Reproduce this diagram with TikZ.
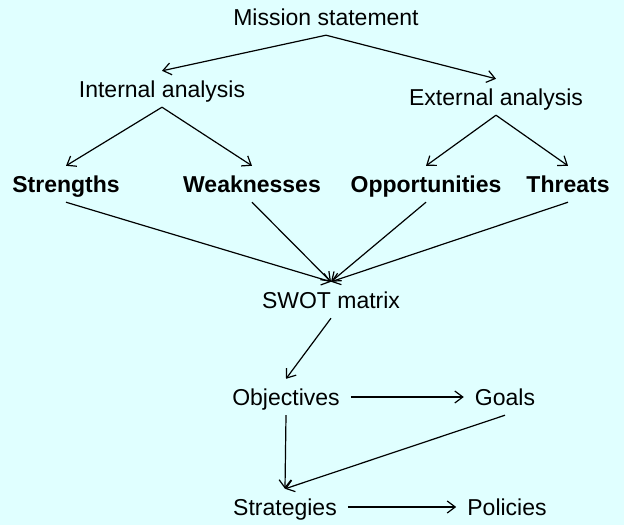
\documentclass[tikz,border=0pt]{standalone}
\usepackage{xcolor}
\usepackage{fontspec}
\setmainfont{Liberation Sans}
\usepackage{tikz}
\usetikzlibrary{arrows.meta}
\definecolor{latar}{RGB}{224,255,255}

\begin{document}
\begin{tikzpicture}[
    x=1pt, y=-1pt,
    butir/.style={inner xsep=11pt, inner ysep=0pt, text height=26pt, text depth=10pt,
                  font=\fontsize{23}{27}\selectfont},
    tebal/.style={butir, font=\fontsize{23}{27}\selectfont\bfseries},
    garis/.style={-{Straight Barb[length=8pt, width=12pt]}, line width=1.2pt}
  ]
    \useasboundingbox[fill=latar] (0,0) rectangle (624,525);
    \node[butir] (misi)   at (326,17)  {Mission statement};
    \node[butir] (intern) at (162,89)  {Internal analysis};
    \node[butir] (ekstern) at (496,97) {External analysis};
    \node[tebal] (kuat)   at (66,184)  {Strengths};
    \node[tebal] (lemah)  at (252,184) {Weaknesses};
    \node[tebal] (peluang) at (426,184) {Opportunities};
    \node[tebal] (ancaman) at (568,184) {Threats};
    \node[butir] (swot)   at (331,300) {SWOT matrix};
    \node[butir] (tujuan) at (286,397) {Objectives};
    \node[butir] (sasaran) at (505,397) {Goals};
    \node[butir] (strategi) at (285,507) {Strategies};
    \node[butir] (kebijakan) at (507,507) {Policies};
    \draw[garis] (misi.south) -- (intern.north);
    \draw[garis] (misi.south) -- (ekstern.north);
    \draw[garis] (intern.south) -- (kuat.north);
    \draw[garis] (intern.south) -- (lemah.north);
    \draw[garis] (ekstern.south) -- (peluang.north);
    \draw[garis] (ekstern.south) -- (ancaman.north);
    \draw[garis] (kuat.south) -- (swot.north);
    \draw[garis] (lemah.south) -- (swot.north);
    \draw[garis] (peluang.south) -- (swot.north);
    \draw[garis] (ancaman.south) -- (swot.north);
    \draw[garis] (swot.south) -- (tujuan.north);
    \draw[garis] (tujuan) -- (sasaran);
    \draw[garis] (tujuan.south) -- (strategi.north);
    \draw[garis] (sasaran.south) -- (strategi.north);
    \draw[garis] (strategi) -- (kebijakan);
  \end{tikzpicture}
\end{document}
